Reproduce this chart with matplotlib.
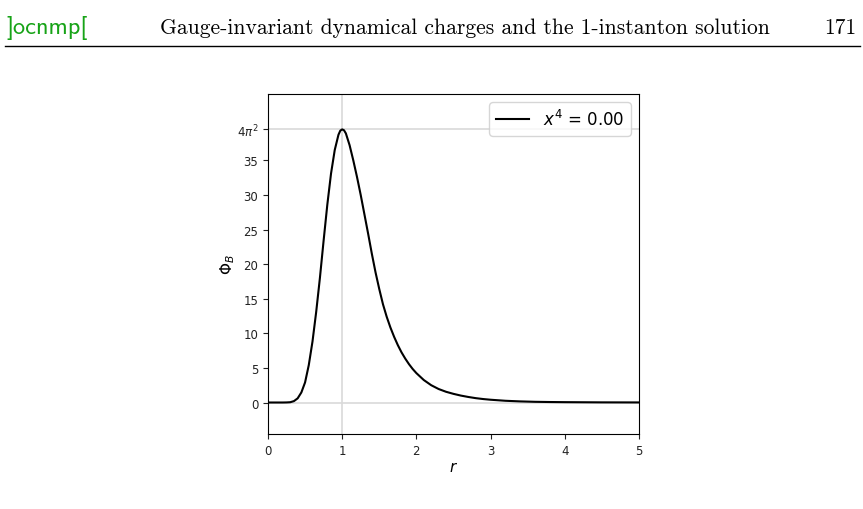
import numpy as np
import matplotlib
matplotlib.use("Agg")
import matplotlib.pyplot as plt

# --- DATA ---
r_vals = [0.0, 0.1, 0.2, 0.25, 0.3, 0.35, 0.4, 0.45, 0.5, 0.55,
          0.6, 0.65, 0.7, 0.75, 0.8, 0.85, 0.9, 0.95, 0.975, 1.0,
          1.025, 1.05, 1.1, 1.15, 1.2, 1.25, 1.3, 1.35, 1.4, 1.45,
          1.5, 1.55, 1.6, 1.65, 1.7, 1.75, 1.8, 1.85, 1.9, 1.95,
          2.0, 2.1, 2.2, 2.3, 2.4, 2.5, 2.6, 2.7, 2.8, 2.9,
          3.0, 3.2, 3.4, 3.6, 3.8, 4.0, 4.5, 5.0]
phi_vals = [0.0, 0.0, 0.0, 0.01, 0.04, 0.2, 0.6, 1.45, 2.9, 5.4,
            8.8, 13.1, 18.0, 23.4, 28.6, 33.1, 36.5, 38.7, 39.3, 39.48,
            39.35, 38.9, 37.2, 35.0, 32.6, 30.0, 27.2, 24.4, 21.5, 18.8,
            16.4, 14.2, 12.4, 10.85, 9.5, 8.3, 7.25, 6.35, 5.55, 4.85,
            4.25, 3.25, 2.5, 1.95, 1.55, 1.25, 1.0, 0.8, 0.63, 0.5,
            0.4, 0.25, 0.16, 0.1, 0.07, 0.05, 0.02, 0.01]
peak_val = 4 * np.pi**2
y_ticks = [0, 5, 10, 15, 20, 25, 30, 35, peak_val]
y_tick_labels = ["0", "5", "10", "15", "20", "25", "30", "35", r"$4\pi^2$"]
x_ticks = [0, 1, 2, 3, 4, 5]

header_logo = "]ocnmp["
header_title = "Gauge-invariant dynamical charges and the 1-instanton solution"
page_no = "171"

fig = plt.figure(figsize=(8.63, 5.10), dpi=100)

# --- cabeçalho da página ---
fig.text(0.007, 0.945, header_logo, family="cmss10",
         fontsize=17.5, color="#17a317", va="center", ha="left")
fig.text(0.185, 0.945, header_title, family="cmr10", fontsize=15.5,
         va="center", ha="left")
fig.text(0.992, 0.945, page_no, family="cmr10", fontsize=15.5,
         va="center", ha="right")
fig.add_artist(plt.Line2D([0.006, 0.996], [0.907, 0.907], color="black",
                          lw=1.0, transform=fig.transFigure))

# --- gráfico ---
ax = fig.add_axes([0.3105, 0.1471, 0.4299, 0.6667])
ax.axvline(1, color="#d9d9d9", lw=1.2, zorder=0)
ax.axhline(0, color="#d9d9d9", lw=1.2, zorder=0)
ax.axhline(peak_val, color="#d9d9d9", lw=1.2, zorder=0)
ax.plot(r_vals, phi_vals, color="black", lw=1.5, label=r"$x^4$ = 0.00")

ax.set_xlim(0, 5)
ax.set_ylim(-4.55, 44.6)
ax.set_xticks(x_ticks)
ax.set_yticks(y_ticks)
ax.set_yticklabels(y_tick_labels)
ax.tick_params(labelsize=8.5, colors="#222222")
ax.set_xlabel(r"$r$", fontsize=11, labelpad=2)
ax.set_ylabel(r"$\Phi_B$", fontsize=11, labelpad=0)
ax.legend(loc="upper right", fontsize=12)

fig.savefig("out.png", dpi=100)
